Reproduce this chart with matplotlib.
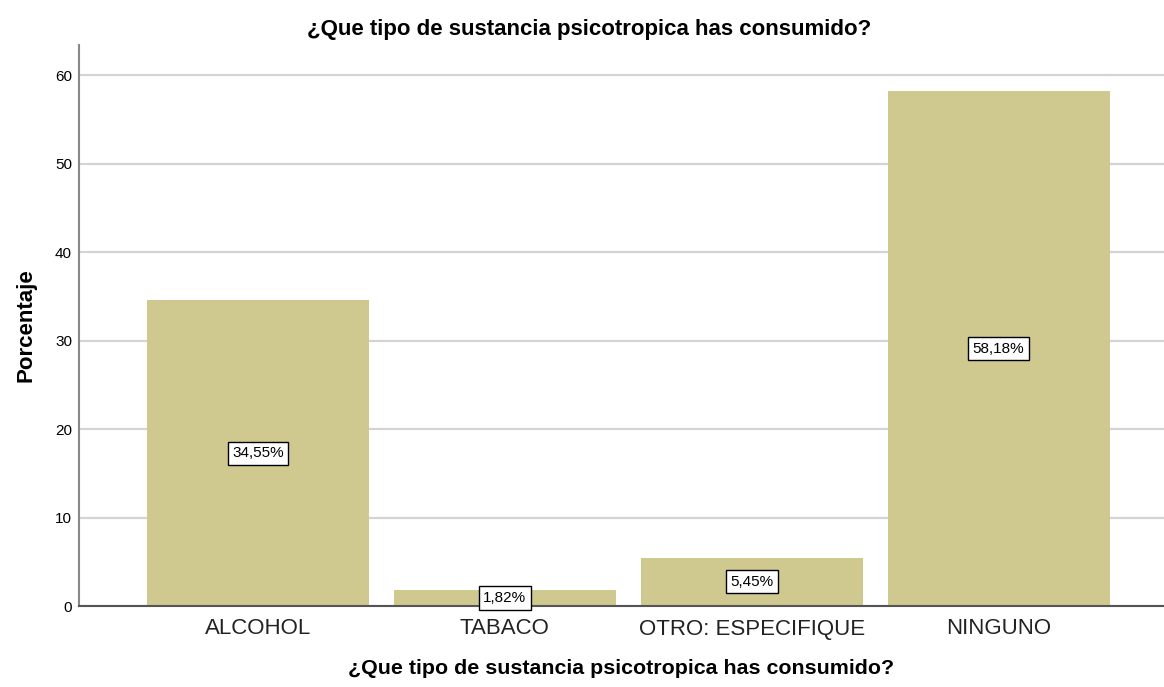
import numpy as np
import matplotlib.pyplot as plt

plt.rcParams['font.family'] = ['Liberation Sans', 'DejaVu Sans']

categorias = ['ALCOHOL', 'TABACO', 'OTRO: ESPECIFIQUE', 'NINGUNO']
porcentajes = [34.55, 1.82, 5.45, 58.18]
etiquetas = ['34,55%', '1,82%', '5,45%', '58,18%']
yticks = [0, 10, 20, 30, 40, 50, 60]
titulo = '¿Que tipo de sustancia psicotropica has consumido?'

fig = plt.figure(figsize=(11.64, 6.87), dpi=100)
ax = fig.add_axes([79 / 1164, 1 - 606 / 687, (1164 - 79) / 1164, (606 - 45) / 687])

x = np.arange(len(categorias))
ax.bar(x, porcentajes, width=0.9, color='#cfc98f', zorder=2)

# etiquetas de valor a media altura de cada barra
for xi, v, t in zip(x, porcentajes, etiquetas):
    ax.text(xi, v / 2, t, ha='center', va='center', fontsize=11, zorder=3,
            bbox=dict(boxstyle='square,pad=0.3', fc='white', ec='black', lw=1))

ax.set_xlim(-0.725, 3.67)
ax.set_ylim(0, 63.4)
ax.set_yticks(yticks)
ax.set_xticks(x)
ax.set_xticklabels(categorias, fontsize=16, color='#222222')
ax.tick_params(axis='y', labelsize=11, length=0, pad=5)
ax.tick_params(axis='x', length=0, pad=9)
ax.yaxis.grid(True, color='#d4d4d4', lw=1.6, zorder=1)
ax.set_axisbelow(True)

for s in ['top', 'right']:
    ax.spines[s].set_visible(False)
ax.spines['left'].set_color('#888888')
ax.spines['left'].set_linewidth(1.5)
ax.spines['bottom'].set_color('#555555')
ax.spines['bottom'].set_linewidth(1.5)

ax.set_ylabel('Porcentaje', fontsize=16, fontweight='bold', labelpad=13)
ax.set_xlabel(titulo, fontsize=15.4, fontweight='bold', labelpad=14)
fig.text(589 / 1164, 1 - 30 / 687, titulo, ha='center', va='center',
         fontsize=16, fontweight='bold')

fig.savefig('out.png', dpi=100, facecolor='white')
